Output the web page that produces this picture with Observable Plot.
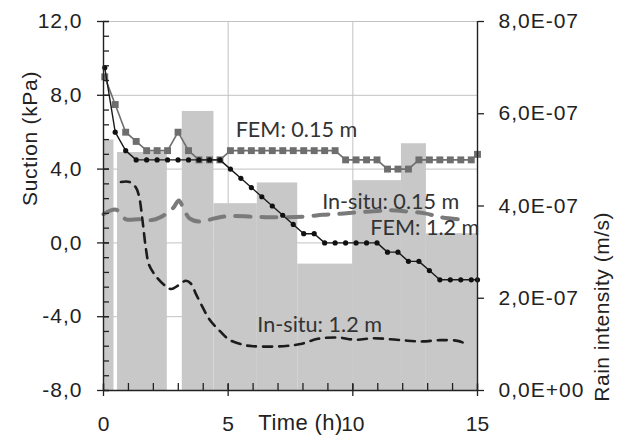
<!DOCTYPE html>
<html>
<head>
<meta charset="utf-8">
<script src="https://cdn.jsdelivr.net/npm/d3@7"></script>
<script src="https://cdn.jsdelivr.net/npm/@observablehq/plot@0.6"></script>
<style>
  html, body { margin: 0; padding: 0; background: #fff; }
  #chart { width: 626px; height: 443px; }
</style>
</head>
<body>
<div id="chart"></div>
<script>
// ---- Data ----
// FEM output times (h)
const femTimes = [0.05, 0.47, 0.89, 1.31, 1.73, 2.15, 2.57, 2.99, 3.41, 3.83, 4.25, 4.67,
  5.09, 5.51, 5.93, 6.35, 6.77, 7.19, 7.61, 8.03, 8.45, 8.87, 9.29, 9.71, 10.13, 10.55,
  10.97, 11.39, 11.81, 12.23, 12.65, 13.07, 13.49, 13.91, 14.33, 14.75, 15.0];
// FEM suction at 0.15 m (kPa)
const fem015 = [9.0, 7.5, 6.0, 5.5, 5.0, 5.0, 5.0, 6.0, 5.0, 4.5, 4.5, 4.5,
  5.0, 5.0, 5.0, 5.0, 5.0, 5.0, 5.0, 5.0, 5.0, 5.0, 5.0, 4.5, 4.5, 4.5,
  4.5, 4.0, 4.0, 4.0, 4.5, 4.5, 4.5, 4.5, 4.5, 4.5, 4.8];
// FEM suction at 1.2 m (kPa)
const fem12 = [9.5, 6.0, 5.0, 4.5, 4.5, 4.5, 4.5, 4.5, 4.5, 4.5, 4.5, 4.5,
  4.0, 3.5, 3.0, 2.5, 2.0, 1.5, 1.0, 0.5, 0.5, 0.0, 0.0, 0.0, 0.0, 0.0,
  0.0, -0.5, -0.5, -1.0, -1.0, -1.5, -2.0, -2.0, -2.0, -2.0, -2.0];

// In-situ suction at 0.15 m
const insitu015Time = [0, 0.5, 0.9, 1.4, 2.0, 2.45, 2.8, 3.02, 3.2, 3.45, 3.9, 4.45, 5.0,
  6.0, 7.0, 8.0, 8.8, 9.5, 10.2, 11.0, 11.5, 12.2, 12.9, 13.5, 14.45];
const insitu015Value = [1.55, 1.8, 1.28, 1.28, 1.25, 1.52, 1.9, 2.3, 1.9, 1.33, 1.15, 1.33, 1.45,
  1.42, 1.39, 1.42, 1.52, 1.58, 1.66, 1.73, 1.77, 1.7, 1.6, 1.4, 1.25];

// In-situ suction at 1.2 m
const insitu12Time = [0.7, 1.05, 1.3, 1.43, 1.57, 1.7, 1.83, 2.1, 2.5, 2.72, 3.0, 3.3, 3.5,
  3.72, 4.0, 4.25, 4.65, 5.05, 5.6, 6.0, 7.2, 7.9, 8.6, 9.4, 10.1, 10.8, 11.5, 12.2, 12.8,
  13.5, 14.2, 14.5];
const insitu12Value = [3.3, 3.3, 3.0, 2.5, 1.15, -0.3, -1.2, -1.8, -2.35, -2.5, -2.3, -2.05, -2.2,
  -2.8, -3.55, -4.15, -4.75, -5.25, -5.52, -5.6, -5.6, -5.48, -5.2, -5.13, -5.25, -5.17, -5.22,
  -5.3, -5.34, -5.27, -5.31, -5.45];

// Rain intensity blocks (h, m/s)
const rainStart = [0, 0.56, 3.16, 4.43, 6.17, 7.79, 10.0, 11.95, 12.95];
const rainEnd   = [0.42, 2.56, 4.43, 6.17, 7.79, 10.0, 11.95, 12.95, 15.0];
const rainRate  = [5.43e-7, 5.16e-7, 6.05e-7, 4.05e-7, 4.5e-7, 2.74e-7, 4.55e-7, 5.35e-7, 3.4e-7];

// Axis ticks and labels
const suctionTicks = [12, 8, 4, 0, -4, -8];
const suctionTickLabels = ["12,0", "8,0", "4,0", "0,0", "-4,0", "-8,0"];
const rainTicks = [0, 2e-7, 4e-7, 6e-7, 8e-7];
const rainTickLabels = ["0,0E+00", "2,0E-07", "4,0E-07", "6,0E-07", "8,0E-07"];
const timeTicks = [0, 5, 10, 15];
const timeTickLabels = ["0", "5", "10", "15"];

// Series labels
const seriesLabelText = ["FEM: 0.15 m", "In-situ: 0.15 m", "FEM: 1.2 m", "In-situ: 1.2 m"];
const seriesLabelX = [5.3, 8.77, 10.7, 6.17];
const seriesLabelY = [6.1, 2.22, 0.78, -4.46];

// ---- Build tables ----
const suctionMin = -8, suctionMax = 12, rainMax = 8e-7;
const toSuction = r => suctionMin + (r / rainMax) * (suctionMax - suctionMin);

const femA = femTimes.map((t, i) => ({t, v: fem015[i]}));
const femB = femTimes.map((t, i) => ({t, v: fem12[i]}));
const inA = insitu015Time.map((t, i) => ({t, v: insitu015Value[i]}));
const inB = insitu12Time.map((t, i) => ({t, v: insitu12Value[i]}));
const rain = rainStart.map((s, i) => ({s, e: rainEnd[i], r: rainRate[i]}));
const labels = seriesLabelText.map((text, i) => ({text, x: seriesLabelX[i], y: seriesLabelY[i]}));

const minorY = d3.range(0, 26).map(i => -8 + i * 0.8).filter(v => v <= 12.001);
const minorX = d3.range(0, 16);
const rainTickPos = rainTicks.map(toSuction);

const fmtSuction = d => suctionTickLabels[suctionTicks.indexOf(d)];
const fmtRain = d => rainTickLabels[Math.round((d - suctionMin) / 5)];
const fmtTime = d => timeTickLabels[timeTicks.indexOf(d)];

const axisColor = "#222";
const gridColor = "#c2c2c2";
const font = "'Liberation Sans', Arial, Helvetica, sans-serif";
const labelFont = "Lato, 'Open Sans', sans-serif";

const chart = Plot.plot({
  width: 626,
  height: 443,
  marginLeft: 103,
  marginRight: 149,
  marginTop: 21,
  marginBottom: 53,
  x: {domain: [0, 15], axis: null},
  y: {domain: [suctionMin, suctionMax], axis: null},
  style: {fontFamily: font, background: "#fff", color: axisColor, overflow: "visible"},
  marks: [
    // gridlines
    Plot.ruleY([12, 8, 4, 0, -4], {stroke: gridColor, strokeWidth: 1}),
    Plot.ruleX([5, 10], {stroke: gridColor, strokeWidth: 1}),
    // rain bars
    Plot.rect(rain, {x1: "s", x2: "e", y1: () => toSuction(0), y2: d => toSuction(d.r), fill: "#c8c8c8"}),
    // in-situ lines
    Plot.line(inA, {x: "t", y: "v", stroke: "#7a7a7a", strokeWidth: 4, strokeDasharray: "15,11", curve: "catmull-rom"}),
    Plot.line(inB, {x: "t", y: "v", stroke: "#1c1c1c", strokeWidth: 2.6, strokeDasharray: "9,7", curve: "catmull-rom"}),
    // FEM 0.15 m
    Plot.line(femA, {x: "t", y: "v", stroke: "#6e6e6e", strokeWidth: 1.6}),
    Plot.dot(femA, {x: "t", y: "v", symbol: "square", r: 3.9, fill: "#6e6e6e", stroke: "none"}),
    // FEM 1.2 m
    Plot.line(femB, {x: "t", y: "v", stroke: "#1a1a1a", strokeWidth: 1.4}),
    Plot.dot(femB, {x: "t", y: "v", symbol: "circle", r: 2.6, fill: "#111", stroke: "none"}),
    // axis lines
    Plot.ruleX([0], {stroke: axisColor, strokeWidth: 1.4}),
    Plot.ruleX([15], {stroke: axisColor, strokeWidth: 1.4}),
    Plot.ruleY([suctionMin], {stroke: axisColor, strokeWidth: 1.4}),
    // left axis ticks
    Plot.axisY(minorY, {anchor: "left", tickSize: 6, dx: 6, tickFormat: () => "", stroke: axisColor, strokeWidth: 1.3, label: null}),
    Plot.axisY(suctionTicks, {anchor: "left", tickSize: 12, dx: 6, tickPadding: 15, tickFormat: fmtSuction,
      fontSize: 21, stroke: axisColor, strokeWidth: 1.3, fill: axisColor, label: null}),
    // right axis
    Plot.axisY(rainTickPos, {anchor: "right", tickSize: 6, tickPadding: 15, tickFormat: fmtRain,
      fontSize: 21, stroke: axisColor, strokeWidth: 1.3, fill: axisColor, label: null}),
    // bottom axis
    Plot.axisX(minorX, {anchor: "bottom", tickSize: 7, dy: -7, tickFormat: () => "", stroke: axisColor, strokeWidth: 1.3, label: null}),
    Plot.axisX(timeTicks, {anchor: "bottom", tickSize: 12, dy: -6, tickPadding: 20, tickFormat: fmtTime,
      fontSize: 21, stroke: axisColor, strokeWidth: 1.3, fill: axisColor, label: null}),
    // axis titles
    Plot.text(["Suction (kPa)"], {frameAnchor: "left", dx: -73, rotate: -90, fontSize: 21, fill: axisColor, fontFamily: font}),
    Plot.text(["Rain intensity (m/s)"], {frameAnchor: "right", dx: 125, dy: 6, rotate: -90, fontSize: 21, fill: axisColor, fontFamily: font}),
    Plot.text(["Time (h)"], {frameAnchor: "bottom", dx: 10, dy: 39, fontSize: 22, fill: axisColor, fontFamily: font}),
    // series labels
    Plot.text(labels, {x: "x", y: "y", text: "text", textAnchor: "start", lineAnchor: "middle",
      fontSize: 21.6, fill: "#333", fontFamily: labelFont})
  ]
});

document.getElementById("chart").appendChild(chart);
// letter spacing to match the reference text proportions
const svg = d3.select(chart);
svg.selectAll("g[aria-label='y-axis tick label'] text").style("letter-spacing", "1px");
svg.selectAll("text").filter(function() { return this.textContent === "Suction (kPa)"; }).style("letter-spacing", "0.7px");
svg.selectAll("text").filter(function() { return this.textContent === "Rain intensity (m/s)"; }).style("letter-spacing", "0.5px");
svg.selectAll("text").filter(function() { return this.textContent === "Time (h)"; }).style("letter-spacing", "0.4px");
</script>
</body>
</html>
